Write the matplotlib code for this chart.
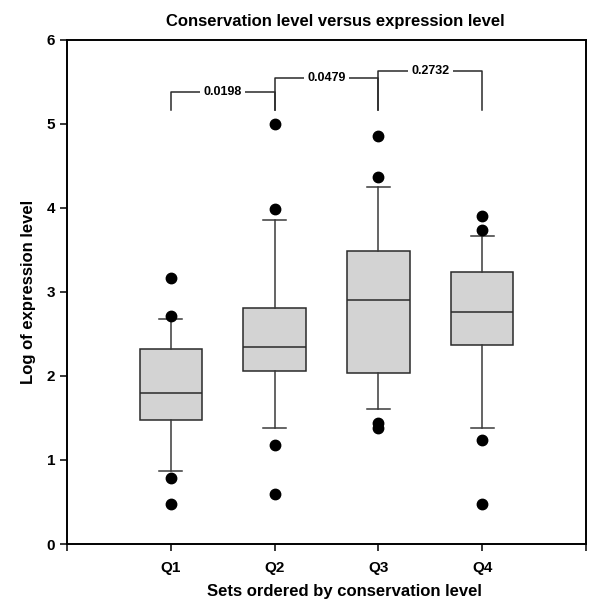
import numpy as np
import matplotlib
matplotlib.use("Agg")
import matplotlib.pyplot as plt

plt.rcParams['font.family'] = ['Liberation Sans', 'DejaVu Sans']
plt.rcParams['font.weight'] = 'bold'

## box statistics
groups = ['Q1', 'Q2', 'Q3', 'Q4']
whislo = [0.87, 1.38, 1.61, 1.38]
q1 = [1.47, 2.06, 2.04, 2.37]
med = [1.80, 2.35, 2.90, 2.76]
q3 = [2.32, 2.81, 3.49, 3.24]
whishi = [2.68, 3.85, 4.25, 3.67]
fliers = [[3.17, 2.71, 0.78, 0.48],
          [5.00, 3.99, 1.18, 0.60],
          [4.85, 4.37, 1.44, 1.38],
          [3.90, 3.74, 1.24, 0.48]]

## significance brackets: (left group, right group, p value, height)
pairs = [(1, 2, '0.0198', 5.38), (2, 3, '0.0479', 5.54), (3, 4, '0.2732', 5.63)]
bracket_bottom = 5.16

stats = []
for i in range(len(groups)):
    stats.append(dict(whislo=whislo[i], q1=q1[i], med=med[i], q3=q3[i],
                      whishi=whishi[i], fliers=fliers[i], label=groups[i]))

fig = plt.figure(figsize=(6, 6.15), dpi=100)
ax = fig.add_axes([0.1117, 0.1154, 0.865, 0.82])

pos = np.arange(1, len(groups) + 1)
ax.bxp(stats, positions=pos, widths=0.6, capwidths=0.22, patch_artist=True,
       boxprops=dict(facecolor='#d3d3d3', edgecolor='#2a2a2a', linewidth=1.1),
       medianprops=dict(color='#2a2a2a', linewidth=1.1),
       whiskerprops=dict(color='#3a3a3a', linewidth=1.1),
       capprops=dict(color='#3a3a3a', linewidth=1.1),
       flierprops=dict(marker='o', markerfacecolor='black', markeredgecolor='black',
                       markersize=7.5))

for a, b, txt, h in pairs:
    ax.plot([a, a, b, b], [bracket_bottom, h, h, bracket_bottom], color='#2a2a2a', lw=1.1)
    ax.text((a + b) / 2, h, txt, ha='center', va='center', fontsize=9, fontweight='bold',
            bbox=dict(facecolor='white', edgecolor='none', pad=2.5))

ax.set_xlim(0, 5)
ax.set_ylim(0, 6)
ax.set_xticks(range(0, 6))
ax.set_xticklabels([''] + groups + [''])
ax.set_yticks(range(0, 7))
ax.tick_params(direction='out', length=5, width=1.1, labelsize=11)
ax.tick_params(axis='x', pad=7)
for lab in ax.get_xticklabels() + ax.get_yticklabels():
    lab.set_fontweight('bold')
for s in ax.spines.values():
    s.set_linewidth(1.4)

ax.set_title('Conservation level versus expression level', fontsize=12, fontweight='bold',
             pad=10, x=0.516)
ax.set_xlabel('Sets ordered by conservation level', fontsize=12, fontweight='bold')
ax.xaxis.set_label_coords(0.534, -0.08)
ax.set_ylabel('Log of expression level', fontsize=12, fontweight='bold', labelpad=8)

fig.savefig('out.png', dpi=100)
